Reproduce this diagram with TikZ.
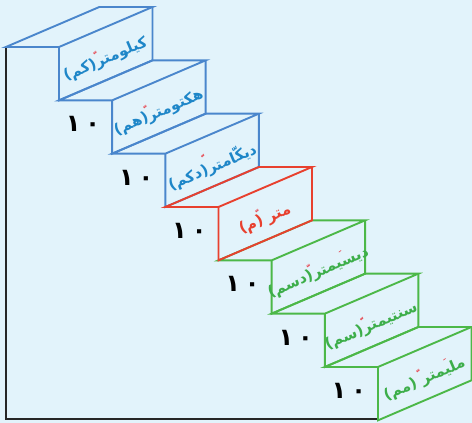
\documentclass[tikz,border=0pt]{standalone}
\usepackage{fontspec}
\usetikzlibrary{calc}
\TeXXeTstate=1
\newfontfamily\arabicfont[Script=Arabic]{DejaVu Sans}
\definecolor{bgblue}{HTML}{E2F3FB}
\definecolor{stepblue}{HTML}{4A86CC}
\definecolor{textblue}{HTML}{1E86C8}
\definecolor{stepred}{HTML}{E8402E}
\definecolor{stepgreen}{HTML}{4CB848}
\definecolor{textgreen}{HTML}{3DAE4A}
\definecolor{markred}{HTML}{E8303A}
\tikzset{
  stepline/.style={line width=1.9pt, line join=miter},
  wallline/.style={line width=2.3pt, draw=black!85},
  unitlabel/.style={font=\arabicfont\bfseries\fontsize{15}{15}\selectfont, rotate=23.2, inner sep=0pt},
  tenlabel/.style={font=\arabicfont\bfseries\fontsize{24}{24}\selectfont, inner sep=0pt},
  stressmark/.style={font=\arabicfont\bfseries\fontsize{10}{10}\selectfont, text=markred, rotate=23.2, inner sep=0pt}
}
\begin{document}
\begin{tikzpicture}[x=1pt,y=-1pt]
\fill[bgblue] (0,0) rectangle (472,423);
\useasboundingbox (0,0) rectangle (472,423);
% wall and floor
\coordinate (walltop) at (6,47);
\coordinate (wallfoot) at (6,419);
\coordinate (floorend) at (378,419);
\draw[wallline] (walltop) -- (wallfoot) -- (floorend);
% steps, the red one last
\foreach \i/\col/\txtcol/\txt/\f in {
  0/stepblue/textblue/{كيلومتر(كم)}/0.58,
  1/stepblue/textblue/{هكتومتر(هم)}/0.61,
  2/stepblue/textblue/{ديكّامتر(دكم)}/0.55,
  4/stepgreen/textgreen/{ديسيمتر(دسم)}/0.56,
  5/stepgreen/textgreen/{سنتيمتر(سم)}/0.56,
  6/stepgreen/textgreen/{مليمتر (مم)}/0.53,
  3/stepred/stepred/{متر (م)}/0.58}{
  \pgfmathsetmacro\xa{59+53.17*\i}
  \pgfmathsetmacro\ya{47+53.33*\i}
  \coordinate (s\i-tl) at (\xa,\ya);
  \coordinate (s\i-bl) at (\xa,\ya+53.33);
  \coordinate (s\i-br) at (\xa+93.5,\ya+13.33);
  \coordinate (s\i-tr) at (\xa+93.5,\ya-40);
  \coordinate (s\i-back) at (\xa+40.33,\ya-40);
  \coordinate (s\i-edge) at (\xa-53.17,\ya);
  % tread
  \draw[stepline, \col] (s\i-edge) -- (s\i-tl) -- (s\i-tr) -- (s\i-back) -- cycle;
  % riser
  \draw[stepline, \col] (s\i-tl) -- (s\i-bl) -- (s\i-br) -- (s\i-tr);
  \node[unitlabel, text=\txtcol] (u\i) at ($(s\i-tl)!0.5!(s\i-br)+(0,6)$) {\beginR\txt\endR};
  \node[stressmark] (m\i) at ($(u\i.north east)!\f!(u\i.north west)$) {ﹼ};
}
% extra marks
\node[stressmark] (m4b) at ($(u4.north east)!0.24!(u4.north west)$) {ﹶ};
\node[stressmark] (m6b) at ($(u6.north east)!0.2!(u6.north west)$) {ﹶ};
% the tens
\foreach \i in {0,...,5}{
  \node[tenlabel] (t\i) at ($(s\i-bl)+(24,24)$) {١\kern5pt٠};
}
\end{tikzpicture}
\end{document}
